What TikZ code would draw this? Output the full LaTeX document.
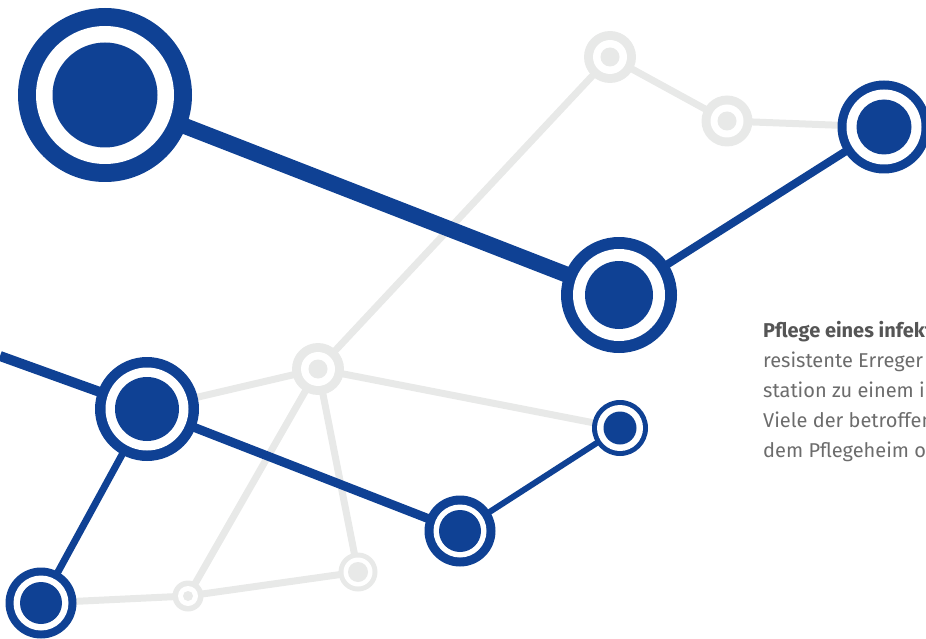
\documentclass[tikz,border=0pt]{standalone}
\usepackage{fontspec}
\setmainfont{Fira Sans}
\pgfdeclarelayer{grayedges}
\pgfdeclarelayer{graynodes}
\pgfdeclarelayer{blueedges}
\pgfsetlayers{grayedges,graynodes,blueedges,main}
\definecolor{netblue}{RGB}{15,65,148}
\definecolor{netgray}{RGB}{232,233,232}
\definecolor{txtgray}{RGB}{108,108,108}
\definecolor{txtdark}{RGB}{85,85,85}
\tikzset{
  ring/.style n args={4}{circle, inner sep=0pt, minimum size=#2*2pt, fill=#1,
    path picture={
      \fill[white] (path picture bounding box.center) circle[radius=#3pt];
      \fill[#1] (path picture bounding box.center) circle[radius=#4pt];
    }},
  bedge/.style={draw=netblue, line width=#1pt},
  gedge/.style={draw=netgray, line width=7pt},
}
\begin{document}
\begin{tikzpicture}[x=1pt,y=-1pt]
\useasboundingbox (0,0) rectangle (926,639);
\clip (0,0) rectangle (926,639);
% gray nodes
\begin{pgfonlayer}{graynodes}
\node[ring={netgray}{26}{17}{9.5}] (H) at (610,57) {};
\node[ring={netgray}{25.5}{16.5}{9.5}] (I) at (727,121) {};
\node[ring={netgray}{26}{17}{9.5}] (J) at (318,369) {};
\node[ring={netgray}{15.5}{10}{5}] (K) at (188,596) {};
\node[ring={netgray}{19.5}{14.5}{10}] (L) at (358,572) {};
\end{pgfonlayer}
% blue nodes
\node[ring={netblue}{87}{69}{52.5}] (A) at (105,95) {};
\node[ring={netblue}{58}{46}{34}] (B) at (619,295) {};
\node[ring={netblue}{46.5}{37.5}{27.5}] (C) at (884,127) {};
\node[ring={netblue}{52}{41.5}{32}] (D) at (147,409) {};
\node[ring={netblue}{35.5}{26.5}{21}] (E) at (460,531) {};
\node[ring={netblue}{28}{23}{16.5}] (F) at (620,428) {};
\node[ring={netblue}{35.5}{27.5}{21}] (G) at (41,603) {};
\coordinate (W) at (0,356);
% gray edges
\begin{pgfonlayer}{grayedges}
\draw[gedge] (H.center) -- (J.center);
\draw[gedge] (H.center) -- (I.center);
\draw[gedge] (I.center) -- (C.center);
\draw[gedge] (J.center) -- (K.center);
\draw[gedge] (J.center) -- (L.center);
\draw[gedge] (J.center) -- (D.center);
\draw[gedge] (J.center) -- (F.center);
\draw[gedge] (G.center) -- (K.center);
\draw[gedge] (K.center) -- (L.center);
\end{pgfonlayer}
% blue edges
\begin{pgfonlayer}{blueedges}
\draw[bedge=16] (A.center) -- (B.center);
\draw[bedge=8] (B.center) -- (C.center);
\draw[bedge=10] (W) -- (D.center);
\draw[bedge=9] (D.center) -- (E.center);
\draw[bedge=6] (E.center) -- (F.center);
\draw[bedge=7] (D.center) -- (G.center);
\end{pgfonlayer}
% text
\node[anchor=base west, inner sep=0pt, align=left, text=txtgray,
      font=\fontsize{20}{30}\selectfont] (T) at (763,457)
  {{\bfseries\color{txtdark}Pflege eines infektiösen}\\
   resistente Erreger\\
   station zu einem intensiven\\
   Viele der betroffenen\\
   dem Pflegeheim oder};
\end{tikzpicture}
\end{document}
